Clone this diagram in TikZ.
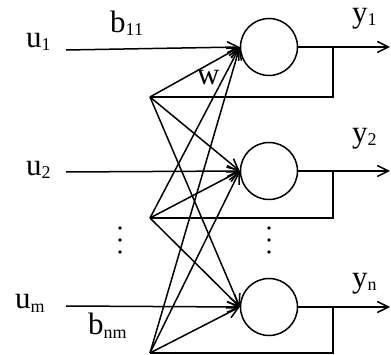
\documentclass[tikz,border=0pt]{standalone}
\usepackage{fontspec}
\setmainfont{Liberation Serif}
\usetikzlibrary{arrows.meta}
\newcommand{\sublbl}[2]{#1\raisebox{-3pt}{\fontsize{18}{18}\selectfont #2}}

\begin{document}
\begin{tikzpicture}[x=1pt,y=-1pt,
  neuron/.style={circle,draw,line width=1.5pt,minimum size=57pt,inner sep=0pt},
  wire/.style={line width=1.5pt},
  arr/.style={wire,-{Straight Barb[length=11pt,width=11pt,line width=1.5pt]}},
  lbl/.style={font=\fontsize{31}{33}\selectfont,inner sep=0pt,anchor=base west},
  dot/.style={circle,fill,inner sep=0pt,minimum size=3.8pt},
]
\useasboundingbox (0,0) rectangle (391,355);
% neurons
\node[neuron] (n1) at (269,47) {};
\node[neuron] (n2) at (269,171) {};
\node[neuron] (n3) at (269,307) {};
% input lines
\coordinate (in1) at (66,50);
\coordinate (in2) at (66,172);
\coordinate (in3) at (66,306);
\foreach \i in {1,2,3}
  \draw[arr] (in\i) -- (n\i.west);
% outputs and feedback loops
\foreach \i/\yb in {1/97,2/218,3/353}{
  \coordinate (out\i) at (390,0 |- n\i.east);
  \draw[arr] (n\i.east) -- (out\i);
  \coordinate (tap\i) at (333,0 |- n\i.east);
  \coordinate (fb\i) at (150,\yb);
  \draw[wire] (tap\i) |- (fb\i);
}
% feedback fan-out
\foreach \i in {1,2,3}
  \foreach \j in {1,2,3}
    \draw[arr] (fb\i) -- (n\j.west);
% labels
\node[lbl] (lu1) at (26,48) {\sublbl{u}{1}};
\node[lbl] (lu2) at (26,176) {\sublbl{u}{2}};
\node[lbl] (lu3) at (15,309) {\sublbl{u}{m}};
\node[lbl] (lb11) at (110,33) {\sublbl{b}{11}};
\node[lbl] (lbnm) at (88,335) {\sublbl{b}{nm}};
\node[lbl] (lw) at (197,85) {w};
\node[lbl] (ly1) at (352,23) {\sublbl{y}{1}};
\node[lbl] (ly2) at (352,143) {\sublbl{y}{2}};
\node[lbl] (ly3) at (352,288) {\sublbl{y}{n}};
% vertical dots
\foreach \x in {120,269}
  \foreach \y in {228,240,252}
    \node[dot] at (\x,\y) {};
\end{tikzpicture}
\end{document}
